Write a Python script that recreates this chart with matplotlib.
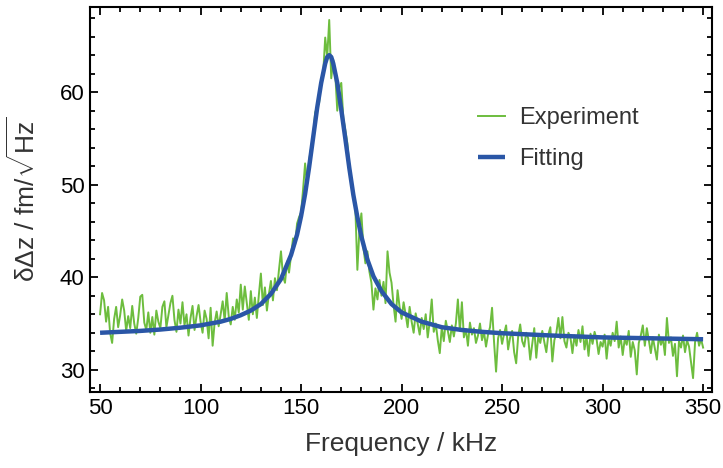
import matplotlib
matplotlib.use('Agg')
import matplotlib.pyplot as plt
from matplotlib.ticker import MultipleLocator

plt.rcParams['font.family'] = ['Liberation Sans', 'DejaVu Sans']
plt.rcParams['mathtext.fontset'] = 'custom'
plt.rcParams['mathtext.rm'] = 'Liberation Sans'
plt.rcParams['mathtext.it'] = 'Liberation Sans'

# Experiment: frequency (kHz) from 50 to 350 in 1 kHz steps
freq_exp = list(range(50, 351))
amp_exp = [
    36.0, 38.3, 37.5, 35.2, 36.8, 34.0, 32.9, 35.5, 36.8, 34.6,
    35.9, 37.6, 36.4, 34.2, 35.8, 34.5, 36.9, 35.0, 33.9, 35.6,
    37.9, 38.1, 35.1, 34.3, 36.2, 34.0, 35.7, 33.8, 36.4, 35.2,
    34.5, 36.8, 37.4, 34.6, 35.9, 37.2, 38.0, 35.4, 34.1, 36.5,
    35.0, 37.3, 34.8, 36.0, 33.7, 35.6, 36.9, 34.3, 35.8, 37.0,
    35.2, 34.0, 36.4, 35.5, 33.4, 36.7, 32.6, 35.1, 36.3, 34.7,
    36.0, 37.4, 35.3, 38.3, 35.8, 34.9, 36.8, 35.4, 37.6, 36.2,
    39.2, 36.5, 39.0, 37.2, 35.4, 38.5, 36.0, 37.8, 35.6, 38.1,
    40.4, 37.0, 38.9, 36.4, 38.2, 39.6, 37.5, 39.9, 38.6, 40.8,
    42.8, 40.1, 39.4, 41.7, 40.5, 42.3, 44.2, 43.5, 45.8, 46.5,
    47.0, 49.5, 52.3, 50.1, 52.6, 54.0, 55.2, 57.8, 58.4, 58.9,
    61.3, 62.0, 65.9, 63.8, 67.8, 61.5, 63.5, 62.0, 58.0, 60.5,
    61.0, 57.2, 55.9, 54.5, 52.0, 50.3, 49.1, 47.5, 40.8, 45.0,
    46.9, 43.2, 41.5, 42.8, 40.6, 39.4, 36.5, 38.8, 37.6, 39.7,
    38.0, 39.5, 37.2, 42.8, 40.5, 39.4, 37.0, 35.2, 38.6, 36.8,
    35.5, 37.3, 36.0, 34.6, 36.8, 35.2, 34.0, 36.1, 35.0, 33.8,
    35.6, 34.4, 36.0, 33.5, 35.2, 37.6, 34.1, 35.0, 33.2, 31.8,
    34.6, 33.1, 35.3, 34.2, 33.0, 34.8, 33.6, 35.0, 37.6, 34.2,
    37.3, 33.5, 34.4, 32.6, 35.1, 33.8, 34.5, 32.9, 33.7, 35.0,
    33.2, 34.1, 32.5, 33.8, 34.6, 36.7, 33.0, 29.8, 33.4, 34.3,
    32.8, 33.9, 34.8, 32.2, 33.5, 34.2, 31.9, 30.7, 33.6, 34.9,
    33.1, 32.5, 34.0, 33.4, 31.1, 32.8, 34.5, 31.3, 33.6, 32.9,
    34.2, 33.0, 31.9, 33.8, 34.6, 30.9, 33.2, 34.0, 35.6, 33.4,
    35.7, 33.1, 32.4, 34.0, 33.5, 31.8, 33.7, 32.6, 34.3, 33.0,
    34.7, 32.2, 33.6, 31.5, 33.9, 32.8, 34.1, 33.3, 31.7, 33.0,
    32.5, 33.8, 31.2, 33.4, 32.6, 34.0, 33.1, 35.2, 32.4, 33.6,
    31.6, 33.3, 32.7, 34.2, 31.4, 33.0, 32.1, 29.5, 32.9, 33.7,
    34.8, 32.6, 34.5, 33.2, 31.8, 33.5, 32.3, 31.1, 33.8, 32.7,
    33.4, 31.6, 35.6, 32.9, 33.5, 31.5, 32.8, 29.3, 33.1, 32.4,
    33.7, 31.9, 33.2, 32.5, 30.8, 29.1, 33.0, 34.0, 32.6, 33.3,
    32.4,
]

# Fitting curve, values
freq_fit = [50, 60, 70, 80, 90, 100, 110, 115, 120, 125, 130, 135, 140, 145,
            148, 150, 152, 154, 156, 158, 160, 162, 163, 164, 165, 166, 168,
            170, 172, 174, 176, 178, 180, 183, 186, 190, 195, 200, 210, 220,
            230, 240, 250, 275, 300, 325, 350]
amp_fit = [34.0, 34.1, 34.2, 34.35, 34.55, 34.8, 35.2, 35.5, 35.9, 36.4, 37.1,
           38.2, 39.8, 42.4, 44.6, 46.6, 49.0, 51.9, 55.1, 58.3, 61.0, 63.1,
           63.8, 64.0, 63.8, 63.1, 61.0, 58.1, 55.0, 51.8, 48.9, 46.5, 44.4,
           41.9, 40.1, 38.5, 37.1, 36.2, 35.2, 34.6, 34.3, 34.1, 33.95, 33.7,
           33.5, 33.4, 33.3]

fig = plt.figure(figsize=(7.23, 4.68), dpi=100)
ax = fig.add_axes([0.1245, 0.1624, 0.8605, 0.8226])

ax.plot(freq_exp, amp_exp, color='#6dbd3e', lw=1.4, label='Experiment')
ax.plot(freq_fit, amp_fit, color='#2a56a6', lw=3.2, label='Fitting',
        solid_capstyle='butt')

ax.set_xlim(45, 354.5)
ax.set_ylim(27.6, 69.2)
ax.xaxis.set_major_locator(MultipleLocator(50))
ax.xaxis.set_minor_locator(MultipleLocator(10))
ax.yaxis.set_major_locator(MultipleLocator(10))
ax.yaxis.set_minor_locator(MultipleLocator(2))
ax.tick_params(which='both', direction='in', top=True, right=True,
               labelsize=16, width=1.3, colors='black')
ax.tick_params(which='major', length=6, pad=4)
ax.tick_params(which='minor', length=3.5)
for s in ax.spines.values():
    s.set_linewidth(1.5)

ax.set_xlabel('Frequency / kHz', fontsize=19, color='#333333', labelpad=10)
ax.set_ylabel(r'$\delta\Delta$z / fm/$\sqrt{\mathrm{Hz}}$', fontsize=19,
              color='#333333', labelpad=14)

leg = ax.legend(loc='center left', bbox_to_anchor=(0.661, 0.704),
                bbox_transform=fig.transFigure, frameon=False, fontsize=17,
                handlelength=1.15, handletextpad=0.6, labelspacing=0.8,
                borderpad=0, borderaxespad=0)
for t in leg.get_texts():
    t.set_color('#333333')

plt.savefig('out.png', dpi=100)
plt.close()
